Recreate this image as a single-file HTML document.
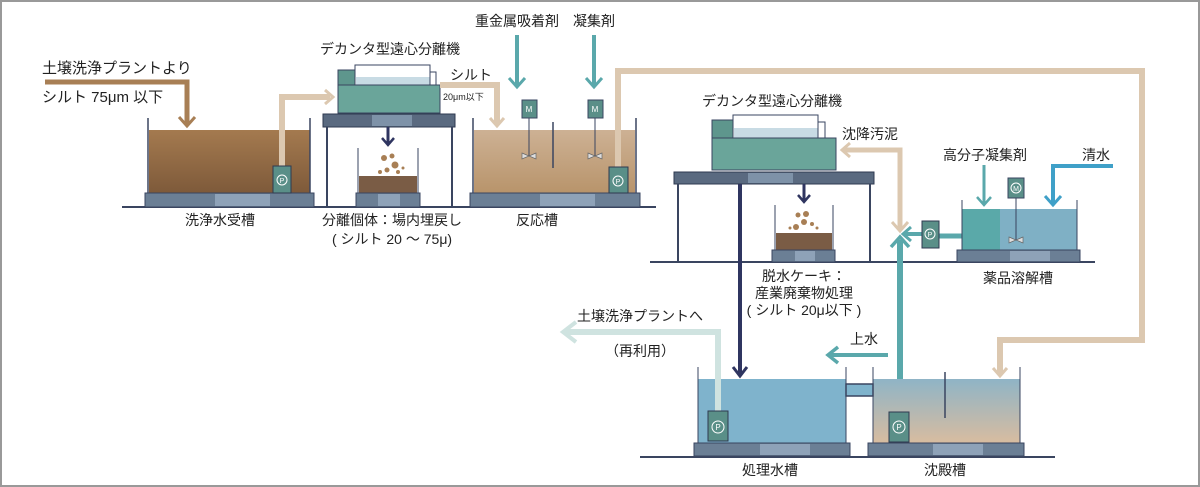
<!DOCTYPE html>
<html><head><meta charset="utf-8"><style>
html,body{margin:0;padding:0;background:#fff}
svg{display:block;font-family:"Liberation Sans","Noto Sans CJK JP",sans-serif;font-size:14px;fill:#222}
</style></head><body>
<svg width="1200" height="487" viewBox="0 0 1200 487" xmlns="http://www.w3.org/2000/svg">
<defs>
<linearGradient id="brown" x1="0" y1="0" x2="0" y2="1"><stop offset="0" stop-color="#a47a4f"/><stop offset="1" stop-color="#7e5a3a"/></linearGradient>
<linearGradient id="tan" x1="0" y1="0" x2="0" y2="1"><stop offset="0" stop-color="#cdb194"/><stop offset="1" stop-color="#b8946b"/></linearGradient>
<linearGradient id="sed" x1="0" y1="0" x2="0" y2="1"><stop offset="0" stop-color="#8fb4c6"/><stop offset="1" stop-color="#d8bca0"/></linearGradient>
</defs>
<rect x="1" y="1" width="1198" height="485" fill="#fff" stroke="#999" stroke-width="2"/>

<line x1="122" y1="207" x2="656" y2="207" stroke="#3a4560" stroke-width="2"/>
<line x1="650" y1="262" x2="1095" y2="262" stroke="#3a4560" stroke-width="2"/>
<line x1="640" y1="457" x2="1055" y2="457" stroke="#3a4560" stroke-width="2"/>

<text x="42" y="73" font-size="15">土壌洗浄プラントより</text>
<text x="42" y="102" font-size="15">シルト 75μm 以下</text>
<polyline points="45,82 187,82 187,125" fill="none" stroke="#a87f55" stroke-width="5"/>
<path d="M179,117 L187,126 L195,117" fill="none" stroke="#a87f55" stroke-width="3"/>

<rect x="149" y="130" width="161" height="63" fill="url(#brown)"/>
<line x1="148" y1="118" x2="148" y2="194" stroke="#3a4560" stroke-width="1.5"/>
<line x1="310" y1="118" x2="310" y2="194" stroke="#3a4560" stroke-width="1.5"/>
<rect x="145" y="193" width="169" height="14" fill="#6b7f95" stroke="#3a4560"/>
<rect x="215" y="194" width="55" height="12" fill="#8ea2b8"/>
<polyline points="282,168 282,97 330,97" fill="none" stroke="#dcc8b0" stroke-width="6"/>
<path d="M325,90 L333,97 L325,104" fill="none" stroke="#dcc8b0" stroke-width="3"/>
<rect x="273" y="166" width="18" height="27" fill="#5a8f88" stroke="#2f3a50"/>
<circle cx="282" cy="180" r="5" fill="none" stroke="#fff"/><text x="282" y="183" font-size="7" fill="#fff" text-anchor="middle">P</text>
<text x="220" y="225" text-anchor="middle">洗浄水受槽</text>

<text x="390" y="54" text-anchor="middle">デカンタ型遠心分離機</text>
<rect x="355" y="65" width="75" height="20" fill="#fff" stroke="#3a4560"/>
<rect x="356" y="77" width="80" height="8" fill="#c8dbe4"/>
<rect x="430" y="72" width="6" height="13" fill="#fff" stroke="#3a4560"/>
<rect x="338" y="70" width="17" height="15" fill="#5e968d" stroke="#3a4560"/>
<rect x="338" y="85" width="102" height="28" fill="#6aa59a" stroke="#3a4560"/>
<rect x="323" y="114" width="132" height="13" fill="#5a6a80" stroke="#2f3a50"/>
<rect x="372" y="115" width="40" height="11" fill="#7e92a8"/>
<line x1="327" y1="127" x2="327" y2="207" stroke="#3a4560" stroke-width="2"/>
<line x1="452" y1="127" x2="452" y2="207" stroke="#3a4560" stroke-width="2"/>
<line x1="388" y1="127" x2="388" y2="143" stroke="#2f3560" stroke-width="3"/>
<path d="M382,138 L388,145 L394,138" fill="none" stroke="#2f3560" stroke-width="2.5"/>
<line x1="358" y1="148" x2="358" y2="193" stroke="#3a4560"/>
<line x1="418" y1="148" x2="418" y2="193" stroke="#3a4560"/>
<rect x="359" y="176" width="58" height="17" fill="#7a5c45"/>
<g fill="#a87f55"><circle cx="384" cy="158" r="3"/><circle cx="392" cy="156" r="2.5"/><circle cx="395" cy="165" r="3.5"/><circle cx="387" cy="170" r="2.5"/><circle cx="380" cy="172" r="2"/><circle cx="398" cy="172" r="2"/><circle cx="403" cy="168" r="1.5"/></g>
<rect x="356" y="193" width="64" height="14" fill="#6b7f95" stroke="#3a4560"/>
<rect x="378" y="194" width="22" height="12" fill="#8ea2b8"/>
<text x="392" y="225" text-anchor="middle">分離個体：場内埋戻し</text>
<text x="392" y="244" text-anchor="middle">( シルト 20 ～ 75μ)</text>

<text x="450" y="80">シルト</text>
<text x="443" y="100" font-size="9">20μm以下</text>
<polyline points="440,85 497,85 497,124" fill="none" stroke="#dcc8b0" stroke-width="6"/>
<path d="M490,118 L497,126 L504,118" fill="none" stroke="#dcc8b0" stroke-width="3"/>

<text x="517" y="26" text-anchor="middle">重金属吸着剤</text>
<text x="594" y="26" text-anchor="middle">凝集剤</text>
<line x1="517" y1="35" x2="517" y2="86" stroke="#5aa8ab" stroke-width="4"/>
<path d="M509,78 L517,87 L525,78" fill="none" stroke="#5aa8ab" stroke-width="3"/>
<line x1="594" y1="35" x2="594" y2="86" stroke="#5aa8ab" stroke-width="4"/>
<path d="M586,78 L594,87 L602,78" fill="none" stroke="#5aa8ab" stroke-width="3"/>
<rect x="474" y="130" width="161" height="63" fill="url(#tan)"/>
<line x1="473" y1="118" x2="473" y2="194" stroke="#3a4560" stroke-width="1.5"/>
<line x1="636" y1="118" x2="636" y2="194" stroke="#3a4560" stroke-width="1.5"/>
<line x1="553" y1="122" x2="553" y2="168" stroke="#3a4560" stroke-width="1.5"/>
<rect x="470" y="193" width="170" height="14" fill="#6b7f95" stroke="#3a4560"/>
<rect x="540" y="194" width="55" height="12" fill="#8ea2b8"/>
<line x1="529" y1="117" x2="529" y2="156" stroke="#3a4560"/>
<rect x="522" y="100" width="15" height="18" fill="#5a8f88" stroke="#3a4560"/>
<text x="529" y="112" font-size="8" fill="#fff" text-anchor="middle">M</text>
<path d="M522,153 L529,156 L522,159 Z M536,153 L529,156 L536,159 Z" fill="#ddd" stroke="#666" stroke-width="0.7"/>
<line x1="595" y1="117" x2="595" y2="156" stroke="#3a4560"/>
<rect x="588" y="100" width="15" height="18" fill="#5a8f88" stroke="#3a4560"/>
<text x="595" y="112" font-size="8" fill="#fff" text-anchor="middle">M</text>
<path d="M588,153 L595,156 L588,159 Z M602,153 L595,156 L602,159 Z" fill="#ddd" stroke="#666" stroke-width="0.7"/>
<polyline points="618,168 618,71 1142,71 1142,340 1000,340 1000,374" fill="none" stroke="#dcc8b0" stroke-width="6"/>
<path d="M993,368 L1000,376 L1007,368" fill="none" stroke="#dcc8b0" stroke-width="3"/>
<rect x="609" y="167" width="19" height="26" fill="#5a8f88" stroke="#2f3a50"/>
<circle cx="618" cy="181" r="5" fill="none" stroke="#fff"/><text x="618" y="184" font-size="7" fill="#fff" text-anchor="middle">P</text>
<text x="537" y="225" text-anchor="middle">反応槽</text>

<text x="772" y="106" text-anchor="middle">デカンタ型遠心分離機</text>
<rect x="733" y="115" width="85" height="23" fill="#fff" stroke="#3a4560"/>
<rect x="734" y="128" width="90" height="10" fill="#c8dbe4"/>
<rect x="818" y="122" width="7" height="16" fill="#fff" stroke="#3a4560"/>
<rect x="712" y="120" width="21" height="18" fill="#5e968d" stroke="#3a4560"/>
<rect x="712" y="138" width="124" height="32" fill="#6aa59a" stroke="#3a4560"/>
<rect x="674" y="172" width="200" height="12" fill="#5a6a80" stroke="#2f3a50"/>
<rect x="748" y="173" width="45" height="10" fill="#7e92a8"/>
<line x1="678" y1="184" x2="678" y2="262" stroke="#3a4560" stroke-width="2"/>
<line x1="870" y1="184" x2="870" y2="262" stroke="#3a4560" stroke-width="2"/>
<line x1="740" y1="184" x2="740" y2="374" stroke="#2f3560" stroke-width="4"/>
<path d="M733,367 L740,376 L747,367" fill="none" stroke="#2f3560" stroke-width="3"/>
<line x1="804" y1="184" x2="804" y2="200" stroke="#2f3560" stroke-width="3"/>
<path d="M798,195 L804,202 L810,195" fill="none" stroke="#2f3560" stroke-width="2.5"/>
<line x1="775" y1="205" x2="775" y2="250" stroke="#3a4560"/>
<line x1="833" y1="205" x2="833" y2="250" stroke="#3a4560"/>
<rect x="776" y="233" width="56" height="17" fill="#7a5c45"/>
<g fill="#a87f55"><circle cx="798" cy="215" r="2.5"/><circle cx="806" cy="214" r="3"/><circle cx="804" cy="222" r="3"/><circle cx="796" cy="227" r="3"/><circle cx="812" cy="224" r="2"/><circle cx="790" cy="228" r="1.5"/><circle cx="817" cy="228" r="1.5"/></g>
<rect x="772" y="250" width="63" height="12" fill="#6b7f95" stroke="#3a4560"/>
<rect x="795" y="251" width="20" height="10" fill="#8ea2b8"/>
<text x="804" y="281" text-anchor="middle">脱水ケーキ：</text>
<text x="804" y="298" text-anchor="middle">産業廃棄物処理</text>
<text x="804" y="315" text-anchor="middle">( シルト 20μ以下 )</text>

<text x="842" y="139">沈降汚泥</text>
<polyline points="900,230 900,150 843,150" fill="none" stroke="#dcc8b0" stroke-width="5"/>
<path d="M850,143 L842,150 L850,157" fill="none" stroke="#dcc8b0" stroke-width="3"/>
<path d="M892,222 L900,231 L908,222" fill="none" stroke="#dcc8b0" stroke-width="3"/>
<line x1="900" y1="415" x2="900" y2="240" stroke="#5aa8ab" stroke-width="6"/>
<path d="M891,247 L900,237 L909,247" fill="none" stroke="#5aa8ab" stroke-width="3.5"/>
<line x1="938" y1="236" x2="962" y2="236" stroke="#5aa8ab" stroke-width="5"/>
<line x1="922" y1="234" x2="905" y2="234" stroke="#5aa8ab" stroke-width="4"/>
<path d="M911,227 L903,234 L911,241" fill="none" stroke="#5aa8ab" stroke-width="3"/>
<rect x="922" y="221" width="17" height="27" fill="#5a8f88" stroke="#2f3a50"/>
<circle cx="930" cy="234" r="5" fill="none" stroke="#fff"/><text x="930" y="237" font-size="7" fill="#fff" text-anchor="middle">P</text>

<text x="985" y="160" text-anchor="middle">高分子凝集剤</text>
<text x="1082" y="160">清水</text>
<rect x="962" y="209" width="38" height="41" fill="#5aa9a9"/>
<rect x="1000" y="209" width="77" height="41" fill="#7fb0c5"/>
<line x1="962" y1="200" x2="962" y2="251" stroke="#3a4560"/>
<line x1="1077" y1="200" x2="1077" y2="251" stroke="#3a4560"/>
<line x1="984" y1="165" x2="984" y2="204" stroke="#5aa8ab" stroke-width="3"/>
<path d="M977,197 L984,205 L991,197" fill="none" stroke="#5aa8ab" stroke-width="2.5"/>
<polyline points="1113,166 1053,166 1053,204" fill="none" stroke="#3fa0c8" stroke-width="4"/>
<path d="M1045,196 L1053,205 L1061,196" fill="none" stroke="#3fa0c8" stroke-width="3"/>
<line x1="1016" y1="197" x2="1016" y2="240" stroke="#3a4560"/>
<rect x="1008" y="178" width="16" height="20" fill="#5a8f88" stroke="#3a4560"/>
<circle cx="1016" cy="188" r="5" fill="none" stroke="#fff"/><text x="1016" y="191" font-size="7" fill="#fff" text-anchor="middle">M</text>
<path d="M1009,237 L1016,240 L1009,243 Z M1023,237 L1016,240 L1023,243 Z" fill="#ddd" stroke="#666" stroke-width="0.7"/>
<rect x="957" y="250" width="123" height="12" fill="#6b7f95" stroke="#3a4560"/>
<rect x="1010" y="251" width="40" height="10" fill="#8ea2b8"/>
<text x="1018" y="283" text-anchor="middle">薬品溶解槽</text>

<text x="640" y="321" text-anchor="middle">土壌洗浄プラントへ</text>
<text x="640" y="356" text-anchor="middle">（再利用）</text>
<rect x="698" y="379" width="148" height="64" fill="#7fb3cc"/>
<rect x="873" y="379" width="147" height="64" fill="url(#sed)"/>
<line x1="698" y1="367" x2="698" y2="444" stroke="#3a4560"/>
<line x1="846" y1="367" x2="846" y2="444" stroke="#3a4560"/>
<line x1="873" y1="367" x2="873" y2="444" stroke="#3a4560"/>
<line x1="1020" y1="367" x2="1020" y2="444" stroke="#3a4560"/>
<line x1="945" y1="372" x2="945" y2="418" stroke="#3a4560" stroke-width="1.5"/>
<rect x="846" y="384" width="27" height="12" fill="#7fb3cc" stroke="#3a4560" stroke-width="1.5"/>
<polyline points="718,412 718,332 565,332" fill="none" stroke="#cfe3e0" stroke-width="6"/>
<path d="M576,322 L563,332 L576,342" fill="none" stroke="#cfe3e0" stroke-width="4"/>
<text x="850" y="344">上水</text>
<line x1="888" y1="355" x2="830" y2="355" stroke="#5aa8ab" stroke-width="4"/>
<path d="M838,347 L828,355 L838,363" fill="none" stroke="#5aa8ab" stroke-width="3.5"/>
<rect x="708" y="411" width="20" height="30" fill="#5a8f88" stroke="#2f3a50"/>
<circle cx="718" cy="427" r="6" fill="none" stroke="#fff"/><text x="718" y="430" font-size="8" fill="#fff" text-anchor="middle">P</text>
<rect x="889" y="412" width="20" height="30" fill="#5a8f88" stroke="#2f3a50"/>
<circle cx="899" cy="427" r="6" fill="none" stroke="#fff"/><text x="899" y="430" font-size="8" fill="#fff" text-anchor="middle">P</text>
<rect x="694" y="443" width="156" height="13" fill="#6b7f95" stroke="#3a4560"/>
<rect x="760" y="444" width="50" height="11" fill="#8ea2b8"/>
<rect x="868" y="443" width="156" height="13" fill="#6b7f95" stroke="#3a4560"/>
<rect x="933" y="444" width="50" height="11" fill="#8ea2b8"/>
<text x="770" y="475" text-anchor="middle">処理水槽</text>
<text x="945" y="475" text-anchor="middle">沈殿槽</text>
</svg>
</body></html>
